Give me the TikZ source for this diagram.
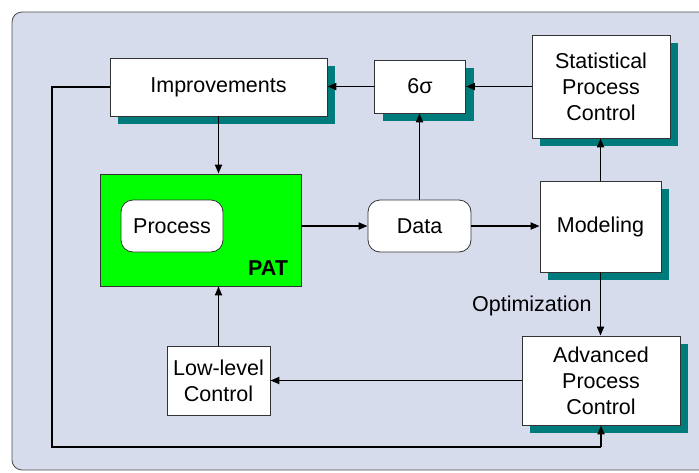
\documentclass[tikz,border=0pt]{standalone}
\usepackage{fontspec}
\setmainfont{Liberation Sans}
\usetikzlibrary{arrows.meta,shadows}
\definecolor{bgcol}{HTML}{D7DCEC}
\definecolor{tealsh}{HTML}{007B7B}
\definecolor{patgreen}{HTML}{00FF00}
\begin{document}
\begin{tikzpicture}[x=1pt,y=-1pt,
  font=\fontsize{21.5}{26}\selectfont,
  box/.style={draw=black!80, line width=0.8pt, fill=white, inner sep=0pt, align=center},
  shbox/.style={box, drop shadow={fill=tealsh, opacity=1, shadow xshift=8pt, shadow yshift=-8pt}},
  rbox/.style={box, rounded corners=12pt},
  conn/.style={line width=1.8pt, -{Triangle[length=9pt,width=7pt]}},
  plain/.style={line width=1.8pt}]
\useasboundingbox (0,0) rectangle (699,472);
\begin{scope}
\clip (0,0) rectangle (699,472);
\draw[fill=bgcol, draw=black!70, line width=0.8pt, rounded corners=10pt] (12,12) rectangle (720,470);
\end{scope}
% nodes
\node[shbox, minimum width=217pt, minimum height=58pt] (imp) at (218.5,87) {Improvements};
\node[shbox, minimum width=91pt, minimum height=53pt] (six) at (420,86.5) {6σ};
\node[shbox, minimum width=138pt, minimum height=103pt] (spc) at (601,86.5) {Statistical\\Process\\Control};
\node[draw=black!80, line width=0.8pt, fill=patgreen, minimum width=201pt, minimum height=112pt] (pat) at (200.5,230) {};
\node[font=\fontsize{21.5}{26}\selectfont\bfseries] (patl) at (268,268) {PAT};
\node[rbox, minimum width=102pt, minimum height=52pt] (proc) at (172,226) {Process};
\node[rbox, minimum width=103pt, minimum height=52pt] (data) at (419.5,226) {Data};
\node[shbox, minimum width=121pt, minimum height=91pt] (mod) at (600.5,226.5) {Modeling};
\node[shbox, minimum width=158pt, minimum height=89pt] (apc) at (601,380.5) {Advanced\\Process\\Control};
\node[box, minimum width=103pt, minimum height=69pt] (low) at (218.5,380.5) {Low-level\\Control};
\coordinate (c1) at (52,87);
\coordinate (c2) at (52,447);
\coordinate (c3) at (601,447);
% connectors
\draw[conn] (imp.south) -- (pat.north -| imp.south);
\draw[conn] (pat.east |- data.west) -- (data.west);
\draw[conn] (data.east) -- (mod.west |- data.east);
\draw[conn] (data.north) -- (six.south -| data.north);
\draw[conn] (six.west) -- (imp.east |- six.west);
\draw[conn] (spc.west) -- (six.east |- spc.west);
\draw[conn] (mod.north) -- (spc.south -| mod.north);
\draw[conn] (mod.south) -- node[left, inner sep=8pt, yshift=-2pt] (opt) {Optimization} (apc.north -| mod.south);
\draw[conn] (apc.west) -- (low.east |- apc.west);
\draw[conn] (low.north) -- (pat.south -| low.north);
\draw[plain] (imp.west |- c1) -- (c1) -- (c2) -- (c3);
\draw[conn] (c3) -- (apc.south -| c3);
\end{tikzpicture}
\end{document}
